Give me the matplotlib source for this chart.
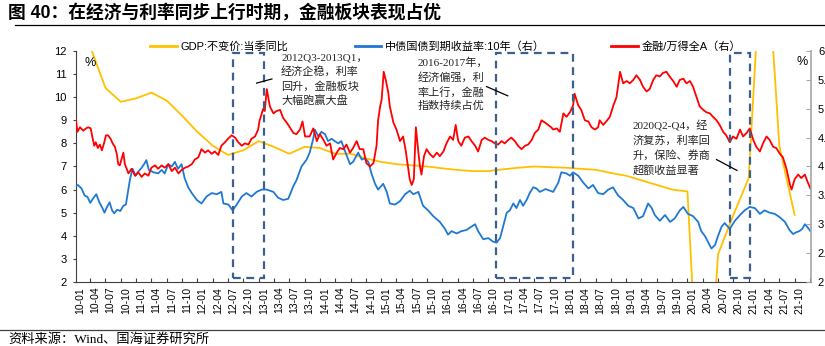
import matplotlib
matplotlib.use('Agg')
import matplotlib.pyplot as plt
from matplotlib.lines import Line2D
from matplotlib.patches import Rectangle

plt.rcParams['font.family'] = ['Liberation Sans', 'Noto Sans CJK SC']
plt.rcParams['axes.unicode_minus'] = False

# x positions are months counted from 2010-01
tick_labels = [f'{y:02d}-{mo:02d}' for y in range(10, 22) for mo in (1, 4, 7, 10)]

# GDP real yoy, quarterly (left axis, %)
gdp_month = list(range(2, 141, 3))
gdp_yoy = [12.2, 10.4, 9.8, 9.95, 10.2, 9.85, 9.2, 8.5, 7.9, 7.5, 7.7, 8.1,
           7.85, 7.55, 7.85, 7.8, 7.55, 7.55, 7.35, 7.2, 7.1, 7.05, 7.0, 6.92,
           6.85, 6.8, 6.8, 6.88, 6.95, 7.0, 6.97, 6.95, 6.9, 6.86, 6.72, 6.6,
           6.4, 6.2, 6.0, 5.92, -6.8, 3.2, 4.9, 6.5, 18.3, 7.9, 4.9]

# 10y government bond yield (right axis, %)
bond_month = [-0.9, -0.4, 0.3, 0.9, 1.5, 2.0, 2.6, 3.2, 3.8, 4.4, 4.8, 5.3, 5.8, 6.3, 6.7,
              7.3, 7.9, 8.5, 9.0, 9.4, 9.8, 10.3, 10.9, 11.5, 12.1, 12.7, 13.0, 13.5, 14.4,
              15.3, 16.0, 16.6, 17.3, 18.0, 18.6, 19.2, 19.9, 20.5, 21.2, 21.9, 22.9, 23.8,
              24.8, 25.8, 26.8, 27.7, 28.1, 29.1, 29.9, 30.7, 31.7, 32.6, 33.6, 34.6, 35.6,
              36.6, 37.9, 38.8, 39.8, 40.8, 41.8, 42.4, 43.4, 44.4, 45.0, 45.7, 46.0, 46.7,
              47.3, 48.0, 48.6, 49.3, 49.9, 50.6, 51.2, 52.2, 52.9, 53.5, 54.5, 55.2, 55.8,
              56.5, 57.1, 57.8, 58.4, 58.8, 59.4, 60.1, 60.7, 61.7, 62.7, 63.7, 64.6, 65.3,
              66.3, 67.2, 68.2, 69.2, 70.5, 71.5, 72.1, 72.8, 73.8, 74.7, 75.7, 76.7, 77.4,
              78.0, 79.0, 80.0, 80.9, 81.6, 82.3, 82.9, 83.6, 84.2, 84.9, 85.5, 86.2, 86.8,
              87.5, 88.1, 88.8, 89.4, 90.1, 91.2, 92.7, 93.7, 94.3, 95.3, 96.0, 96.6, 97.6,
              98.6, 99.6, 100.5, 101.5, 102.5, 103.5, 104.4, 105.4, 106.4, 107.4, 108.4,
              109.4, 110.3, 111.3, 112.0, 112.6, 113.6, 114.6, 115.6, 116.5, 117.5, 118.2,
              119.1, 120.1, 121.1, 121.7, 122.4, 123.1, 123.7, 124.4, 125.0, 125.7, 126.3,
              127.3, 128.3, 129.3, 130.2, 131.2, 132.2, 133.2, 134.1, 135.1, 136.1, 137.1,
              138.1, 139.0, 139.7, 140.3, 140.9, 141.5, 142.0, 142.6, 143.1]
bond_yield = [3.65, 3.68, 3.62, 3.50, 3.47, 3.37, 3.45, 3.52, 3.38, 3.28, 3.20, 3.30, 3.38, 3.24, 3.19,
              3.25, 3.23, 3.32, 3.34, 3.56, 3.78, 3.96, 3.84, 3.92, 3.98, 4.06, 4.11, 3.94, 3.90,
              3.88, 3.94, 3.88, 4.04, 4.00, 4.08, 3.96, 4.04, 3.80, 3.64, 3.54, 3.42, 3.36,
              3.48, 3.54, 3.52, 3.56, 3.36, 3.34, 3.24, 3.34, 3.48, 3.54, 3.48, 3.56, 3.60,
              3.60, 3.56, 3.46, 3.42, 3.44, 3.66, 3.76, 4.00, 4.12, 4.24, 4.48, 4.64, 4.52,
              4.60, 4.56, 4.44, 4.48, 4.44, 4.40, 4.44, 4.20, 4.04, 4.08, 4.24, 4.12, 4.14,
              4.08, 3.88, 3.70, 3.60, 3.64, 3.70, 3.56, 3.36, 3.34, 3.40, 3.52, 3.58, 3.52,
              3.56, 3.32, 3.24, 3.14, 3.04, 2.92, 2.82, 2.88, 2.84, 2.88, 2.90, 2.96, 3.00,
              2.88, 2.74, 2.76, 2.70, 2.68, 2.76, 2.96, 3.20, 3.24, 3.36, 3.28, 3.42, 3.32,
              3.42, 3.54, 3.64, 3.62, 3.56, 3.61, 3.56, 3.72, 3.90, 3.88, 3.84, 3.90, 3.84,
              3.72, 3.62, 3.68, 3.54, 3.52, 3.60, 3.64, 3.50, 3.42, 3.32, 3.28,
              3.10, 3.14, 3.36, 3.28, 3.16, 3.06, 3.16, 3.04, 3.10, 3.24, 3.30,
              3.18, 3.14, 3.04, 2.88, 2.80, 2.68, 2.58, 2.64, 2.80, 2.96, 3.02,
              2.92, 3.06, 3.16, 3.24, 3.30, 3.28, 3.18, 3.24, 3.20, 3.18, 3.12,
              3.04, 2.90, 2.83, 2.86, 2.88, 2.92, 3.00, 2.94, 2.88]

# financials / Wind All A relative index (right axis)
ratio_month = [-0.8, -0.5, 0.0, 0.65, 1.2, 1.6, 2.1, 2.5, 2.8, 3.1, 3.5, 3.9, 4.3, 4.7, 5.1, 5.5,
               6.0, 6.4, 6.85, 7.2, 7.5, 7.8, 8.5, 8.8, 9.5, 10.1, 10.8, 11.4, 12.1, 12.7, 13.4,
               14.0, 14.7, 15.3, 16.0, 16.6, 17.3, 18.0, 18.6, 19.3, 19.9, 20.6, 21.2, 21.9,
               22.5, 23.2, 23.8, 24.5, 25.1, 25.8, 26.4, 27.1, 27.7, 28.4, 29.0, 29.7, 30.4,
               31.0, 31.7, 32.3, 33.0, 33.6, 34.3, 34.9, 35.2, 35.9, 36.2, 36.6, 37.2, 37.9,
               38.5, 39.2, 39.8, 40.5, 41.1, 41.8, 42.4, 43.1, 43.6, 44.1, 45.0, 45.7, 46.4,
               47.0, 47.7, 48.3, 49.0, 49.6, 50.3, 50.9, 51.6, 52.2, 52.9, 53.5, 54.2, 54.8,
               55.5, 56.1, 56.8, 57.5, 58.1, 58.4, 58.8, 59.1, 59.5, 59.9, 60.4, 60.7, 61.4,
               62.0, 62.7, 63.3, 63.8, 64.3, 64.6, 65.0, 65.4, 65.8, 66.3, 66.6, 66.9, 67.4,
               67.9, 68.5, 69.2, 69.9, 70.5, 71.2, 71.8, 72.5, 73.1, 73.6, 74.1, 74.7, 75.4,
               76.1, 76.7, 77.4, 78.0, 78.7, 79.3, 80.0, 80.6, 81.3, 81.9, 82.6, 83.2, 83.9,
               84.5, 85.2, 85.8, 86.5, 87.2, 87.8, 88.5, 89.1, 89.8, 90.4, 91.1, 91.7, 92.3,
               92.7, 93.4, 94.0, 94.7, 95.3, 96.0, 96.6, 96.9, 97.6, 98.2, 98.9, 99.6, 100.2,
               100.9, 101.5, 101.8, 102.5, 103.1, 103.8, 104.5, 105.1, 105.8, 106.4, 107.1,
               107.7, 108.4, 109.0, 109.7, 110.3, 111.0, 111.6, 112.3, 112.9, 113.6, 114.2,
               114.9, 115.5, 116.2, 116.9, 117.5, 118.2, 118.8, 119.5, 120.1, 120.8, 121.4,
               122.1, 122.7, 123.4, 124.0, 124.7, 125.3, 126.0, 126.6, 127.3, 127.9, 128.6,
               129.3, 129.9, 130.6, 131.2, 131.9, 132.5, 133.2, 133.8, 134.5, 135.1, 135.8,
               136.4, 137.1, 137.7, 138.4, 139.1, 139.4, 140.0, 140.7, 141.3, 142.0, 142.6,
               143.1]
ratio_value = [4.82, 4.60, 4.68, 4.62, 4.66, 4.68, 4.66, 4.48, 4.36, 4.42, 4.32, 4.38, 4.28, 4.40, 4.54, 4.54,
               4.48, 4.40, 4.34, 4.22, 4.04, 4.02, 4.24, 4.04, 3.88, 3.96, 3.84, 3.90, 3.82, 3.88, 3.84,
               3.98, 4.02, 3.96, 4.02, 3.98, 4.04, 3.92, 3.98, 3.88, 3.94, 3.98, 4.00, 4.04,
               4.12, 4.16, 4.30, 4.24, 4.28, 4.22, 4.26, 4.20, 4.36, 4.42, 4.48, 4.54, 4.50,
               4.42, 4.36, 4.40, 4.38, 4.48, 4.52, 4.64, 4.80, 5.00, 4.96, 5.34, 5.04, 4.92,
               4.96, 4.98, 4.84, 4.76, 4.68, 4.58, 4.56, 4.64, 4.78, 4.52, 4.52, 4.66, 4.44,
               4.56, 4.46, 4.36, 4.40, 4.12, 4.24, 4.32, 4.30, 4.38, 4.24, 4.32, 4.44, 4.30,
               4.30, 4.06, 4.00, 4.06, 4.36, 4.80, 5.04, 5.16, 5.64, 5.50, 5.28, 5.04, 4.76,
               4.64, 4.44, 4.52, 4.28, 3.96, 3.78, 3.68, 3.78, 4.68, 4.24, 4.00, 3.86, 4.18,
               4.30, 4.22, 4.16, 4.24, 4.18, 4.26, 4.40, 4.52, 4.46, 4.72, 4.44, 4.36, 4.50,
               4.52, 4.44, 4.36, 4.26, 4.46, 4.50, 4.46, 4.44, 4.40, 4.38, 4.44, 4.40, 4.46,
               4.50, 4.44, 4.36, 4.30, 4.36, 4.38, 4.46, 4.58, 4.64, 4.80, 4.76, 4.72, 4.68,
               4.64, 4.66, 4.60, 4.92, 4.86, 4.94, 5.06, 5.26, 5.06, 4.98, 4.80, 4.78, 4.68,
               4.64, 4.68, 4.80, 4.72, 4.78, 4.86, 5.06, 5.20, 5.64, 5.44, 5.48,
               5.44, 5.50, 5.58, 5.50, 5.38, 5.30, 5.34, 5.50, 5.58, 5.56, 5.62,
               5.64, 5.56, 5.48, 5.38, 5.50, 5.52, 5.44, 5.48, 5.38, 5.20, 5.04,
               4.98, 4.94, 4.92, 4.86, 4.80, 4.72, 4.60, 4.54, 4.42, 4.52, 4.48,
               4.64, 4.52, 4.58, 4.66, 4.46, 4.34, 4.26, 4.40, 4.52, 4.46, 4.34,
               4.32, 4.22, 4.16, 3.96, 3.68, 3.60, 3.78, 3.86, 3.80, 3.86, 3.72,
               3.62]

right_ticks = [2, 2.5, 3, 3.5, 4, 4.5, 5, 5.5, 6]

c_gdp = '#FFC000'
c_bond = '#1F78D1'
c_ratio = '#FF0000'
c_box = '#3B5F8E'
serif_cjk = ['Liberation Serif', 'Noto Sans CJK SC']

fig = plt.figure(figsize=(8.25, 3.46), dpi=100)
ax = fig.add_axes([0.0921, 0.1850, 0.8909, 0.6676])
ax2 = ax.twinx()

l1, = ax.plot(gdp_month, gdp_yoy, color=c_gdp, lw=1.3)
l2, = ax2.plot(bond_month, bond_yield, color=c_bond, lw=1.3)
l3, = ax2.plot(ratio_month, ratio_value, color=c_ratio, lw=1.3)

ax.set_xlim(-0.78, 143.2)
ax.set_ylim(2, 12)
ax2.set_ylim(2, 6)

ax.set_yticks(range(2, 13))
ax2.set_yticks(right_ticks)
ax2.set_yticklabels([f'{v:g}' for v in right_ticks])
ax.set_xticks(range(0, 144, 3))
ax.set_xticklabels(tick_labels)
ax.set_xticks(range(2, 144, 3), minor=True)

ax.tick_params(axis='x', which='major', length=0, pad=3.5, labelsize=7.5, rotation=90)
ax.tick_params(axis='x', which='minor', direction='in', length=3, color='#404040', width=0.8)
ax.tick_params(axis='y', direction='out', length=2.5, width=0.8, color='#404040', pad=4, labelsize=8)
ax2.tick_params(axis='y', direction='in', length=3.5, width=0.8, color='#A6A6A6', pad=5, labelsize=8)

for s in ['top', 'right']:
    ax.spines[s].set_visible(False)
for s in ['top', 'left', 'bottom']:
    ax2.spines[s].set_visible(False)
ax.spines['left'].set_color('#404040')
ax.spines['bottom'].set_color('#404040')
ax2.spines['right'].set_color('#A6A6A6')
ax2.spines['right'].set_linewidth(1.2)

# dashed highlight boxes, drawn in left-axis units
for x0, x1 in [(30.0, 36.0), (81.5, 96.6), (127.3, 131.3)]:
    ax2.add_patch(Rectangle((x0, 2.17), x1 - x0, 9.75, transform=ax.transData,
                            fill=False, ec=c_box, lw=1.6, ls=(0, (3.5, 2.5)), zorder=4))

notes = [
    (39.4, 11.9, '2012Q3-2013Q1，\n经济企稳，利率\n回升，金融板块\n大幅跑赢大盘', (34.6, 37.6), (10.61, 10.79)),
    (66.2, 11.72, '2016-2017年，\n经济偏强，利\n率上行，金融\n指数持续占优', (79.65, 83.8), (10.46, 10.06)),
    (108.3, 8.98, '2020Q2-Q4，经\n济复苏，利率回\n升，保险、券商\n超额收益显著', (124.7, 128.7), (7.30, 6.83)),
]
for tx, ty, txt, lx, ly in notes:
    ax2.text(tx, ty, txt, transform=ax.transData, ha='left', va='top', fontsize=8,
             family=serif_cjk, color='#262626', linespacing=1.45, zorder=5)
    ax2.add_line(Line2D(lx, ly, transform=ax.transData, color='black', lw=0.9, zorder=5))

ax.text(1.96, 11.48, '%', fontsize=9, ha='center', va='center')
ax.text(141.4, 11.53, '%', fontsize=9, ha='center', va='center')

fig.legend([l1, l2, l3], ['GDP:不变价:当季同比', '中债国债到期收益率:10年（右）', '金融/万得全A（右）'],
           loc='center', bbox_to_anchor=(0.54, 1 - 46 / 346), ncol=3, frameon=False,
           fontsize=8, handlelength=2.4, handletextpad=0.3, columnspacing=6.0)
for lh in fig.legends[0].get_lines():
    lh.set_linewidth(2)

fig.text(8 / 825, 1 - 13 / 346, '图 40：在经济与利率同步上行时期，金融板块表现占优',
         fontsize=12.8, fontweight='bold', ha='left', va='center')
fig.add_artist(Line2D([15 / 825, 1], [1 - 25 / 346] * 2, color='black', lw=0.9))
fig.add_artist(Line2D([0, 1], [1 - 330 / 346] * 2, color='#404040', lw=0.9))
fig.text(8 / 825, 1 - 339 / 346, '资料来源：Wind、国海证券研究所', fontsize=9.5,
         family=serif_cjk, ha='left', va='center')

fig.savefig('out.png', dpi=100)
